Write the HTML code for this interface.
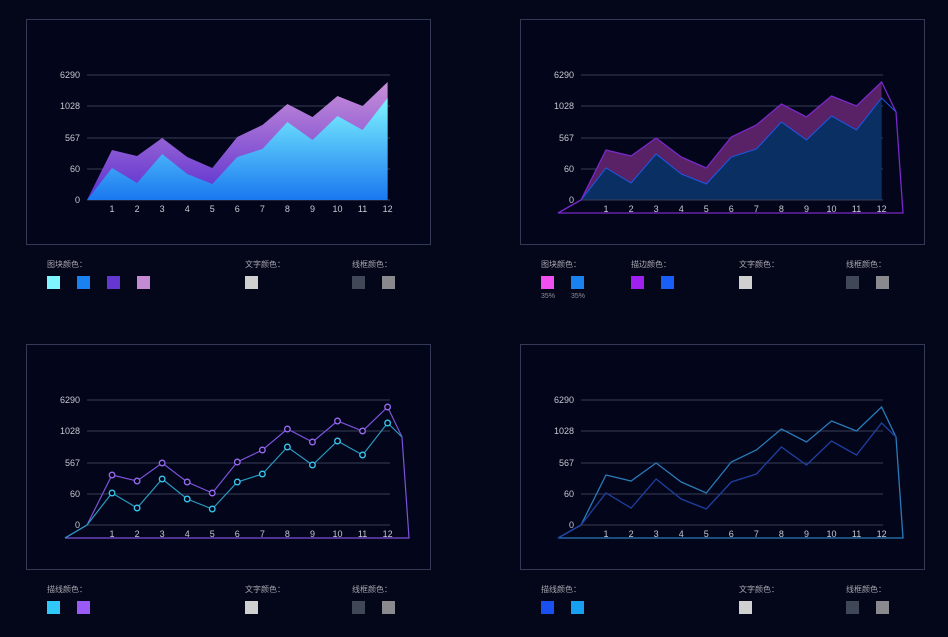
<!DOCTYPE html>
<html><head><meta charset="utf-8"><style>
html,body{margin:0;padding:0;background:#040619;width:948px;height:637px;overflow:hidden}
svg text{font-family:"Liberation Sans","Noto Sans CJK SC",sans-serif}
</style></head><body>
<svg id="s" width="948" height="637" xmlns="http://www.w3.org/2000/svg">
<defs>
<linearGradient id="gb" x1="0" y1="0" x2="0" y2="1"><stop offset="0" stop-color="#7ef5ff"/><stop offset="1" stop-color="#1a78f0"/></linearGradient>
<linearGradient id="gp" x1="0" y1="0" x2="0" y2="1"><stop offset="0" stop-color="#c98fd8"/><stop offset="1" stop-color="#5a2fd0"/></linearGradient>
</defs>
</svg>
<script>
(function(){
var s=document.getElementById('s');var h='';
var TOPV=[200,150,156,138,157,168,137,125,104,117,96,106,82];
var LOWV=[200,168,183,154,174,184,157,149,122,140,116,130,98];
function X(ox,i){return ox+i*25.05;}
function pts(ox,oy,a){return a.map(function(v,i){return X(ox,i).toFixed(1)+','+(v+oy)}).join(' ');}
function txt(x,y,t,fs,c,anchor){return '<text x="'+x+'" y="'+y+'" font-size="'+fs+'" fill="'+c+'"'+(anchor?' text-anchor="'+anchor+'"':'')+'>'+t+'</text>';}
function grid(ox,oy,gx2){
 var g=[75,106,138,169,200],l=['6290','1028','567','60','0'];
 for(var i=0;i<5;i++){h+='<line x1="'+ox+'" x2="'+gx2+'" y1="'+(g[i]+oy)+'" y2="'+(g[i]+oy)+'" stroke="#3a3f58" stroke-width="1"/>';
  h+=txt(ox-7,g[i]+oy+3,l[i],9,'#c8c8d0','end');}
}
function xl(ox,oy){for(var j=1;j<=12;j++)h+=txt(X(ox,j),212+oy,j,9,'#c8c8d0','middle');}
function box(x,y){h+='<rect x="'+(x+0.5)+'" y="'+(y+0.5)+'" width="404" height="225" fill="#03051a" stroke="#343a55"/>';}
function sw(x,y,c){h+='<rect x="'+x+'" y="'+y+'" width="13" height="13" fill="'+c+'"/>';}
function lab(x,y,t){h+=txt(x,y,t,8,'#a8a8b0');}
box(26,19);grid(87,0,390);
h+='<polygon points="87,200 '+pts(87,0,TOPV)+' '+X(87,12)+',200" fill="url(#gp)"/>';
h+='<polygon points="87,200 '+pts(87,0,LOWV)+' '+X(87,12)+',200" fill="url(#gb)"/>';
xl(87,0);
lab(47,267,'图块颜色：');sw(47,276,'#7ef5ff');sw(77,276,'#1a82f0');sw(107,276,'#6438d0');sw(137,276,'#c48ad4');
lab(245,267,'文字颜色：');sw(245,276,'#d0d0d0');lab(352,267,'线框颜色：');sw(352,276,'#404858');sw(382,276,'#8a8a8e');
box(520,19);grid(581,0,883);
var x12=X(581,12).toFixed(1);
h+='<polygon points="581,200 '+pts(581,0,TOPV)+' '+x12+',200" fill="#5a2266"/>';
h+='<polygon points="581,200 '+pts(581,0,LOWV)+' '+x12+',200" fill="#0a2f62"/>';
h+='<line x1="581" x2="883" y1="200" y2="200" stroke="#3a3f58"/>';
h+='<polyline fill="none" stroke="#1a5ae8" stroke-width="1" points="558,213 '+pts(581,0,LOWV)+' 896,112"/>';
h+='<polyline fill="none" stroke="#7a28c8" stroke-width="1.3" points="558,213 '+pts(581,0,TOPV)+' 896,112 903,213 558,213"/>';
xl(581,0);
lab(541,267,'图块颜色：');sw(541,276,'#f050f0');sw(571,276,'#1a82f0');h+=txt(541,298,'35%',7,'#909098')+txt(571,298,'35%',7,'#909098');
lab(631,267,'描边颜色：');sw(631,276,'#a020f0');sw(661,276,'#1a5ef8');
lab(739,267,'文字颜色：');sw(739,276,'#d0d0d0');lab(846,267,'线框颜色：');sw(846,276,'#404858');sw(876,276,'#8a8a8e');
box(26,344);grid(87,325,390);
h+='<polyline fill="none" stroke="#7b52d8" stroke-width="1.2" points="65,538 '+pts(87,325,TOPV)+' 402,437 409,538 65,538"/>';
h+='<polyline fill="none" stroke="#2a9ac0" stroke-width="1.2" points="65,538 '+pts(87,325,LOWV)+' 402,437"/>';
for(var i=1;i<=12;i++){h+='<circle cx="'+X(87,i)+'" cy="'+(TOPV[i]+325)+'" r="2.8" fill="#03051a" stroke="#9a6af0" stroke-width="1.3"/>';
h+='<circle cx="'+X(87,i)+'" cy="'+(LOWV[i]+325)+'" r="2.8" fill="#03051a" stroke="#38c8f0" stroke-width="1.3"/>';}
xl(87,325);
lab(47,592,'描线颜色：');sw(47,601,'#30c8f8');sw(77,601,'#9a5af8');
lab(245,592,'文字颜色：');sw(245,601,'#d0d0d0');lab(352,592,'线框颜色：');sw(352,601,'#404858');sw(382,601,'#8a8a8e');
box(520,344);grid(581,325,883);
h+='<polyline fill="none" stroke="#2a7ab8" stroke-width="1.3" points="558,538 '+pts(581,325,TOPV)+' 896,437 903,538 558,538"/>';
h+='<polyline fill="none" stroke="#1e40a0" stroke-width="1.3" points="558,538 '+pts(581,325,LOWV)+' 896,437"/>';
xl(581,325);
lab(541,592,'描线颜色：');sw(541,601,'#1a50f0');sw(571,601,'#18a0f0');
lab(739,592,'文字颜色：');sw(739,601,'#d0d0d0');lab(846,592,'线框颜色：');sw(846,601,'#404858');sw(876,601,'#8a8a8e');
s.insertAdjacentHTML('beforeend',h);
})();
</script>
</body></html>
